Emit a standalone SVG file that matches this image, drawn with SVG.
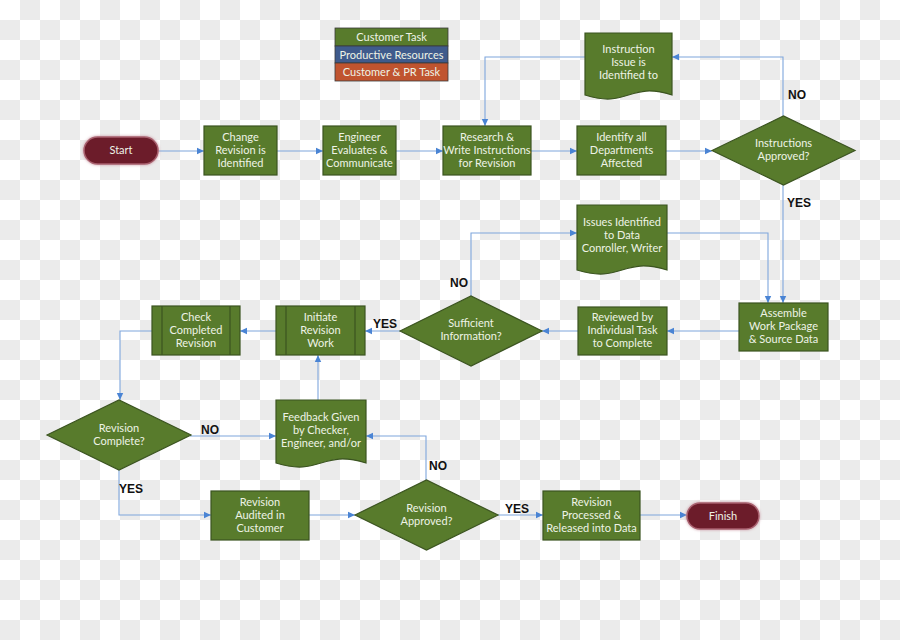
<svg xmlns="http://www.w3.org/2000/svg" width="900" height="640" viewBox="0 0 900 640">
<defs>
<pattern id="chk" width="40" height="40" patternUnits="userSpaceOnUse">
<rect width="40" height="40" fill="#ffffff"/>
<rect x="20" y="0" width="20" height="20" fill="#ebebeb"/>
<rect x="0" y="20" width="20" height="20" fill="#ebebeb"/>
</pattern>
<marker id="arr" markerWidth="8" markerHeight="8" refX="7" refY="4" orient="auto" markerUnits="userSpaceOnUse">
<path d="M0,0.8 L7,4 L0,7.2 Z" fill="#4a84d4"/>
</marker>
<filter id="glow" x="-20%" y="-40%" width="140%" height="180%">
<feGaussianBlur in="SourceAlpha" stdDeviation="1.6" result="b"/>
<feFlood flood-color="#c7909c"/>
<feComposite in2="b" operator="in" result="g"/>
<feMerge><feMergeNode in="g"/><feMergeNode in="SourceGraphic"/></feMerge>
</filter>
<style>
.box{fill:#587b2c;stroke:#3b5420;stroke-width:1.2}
.pill{fill:#6c1b2b;stroke:#a8606e;stroke-width:1.5}
.t{font-family:Lato,"Open Sans","Liberation Sans",sans-serif;font-size:11px;fill:#eef3e6;text-anchor:middle}
.lbl{font-family:"Liberation Sans",Arial,sans-serif;font-size:12px;font-weight:bold;fill:#111;text-anchor:middle}
.c{fill:none;stroke:#7fa6dc;stroke-width:1.1;marker-end:url(#arr)}
.sep{stroke:#3b5420;stroke-width:1.2}
</style>
</defs>
<rect width="900" height="640" fill="url(#chk)"/>

<g id="legend">
<rect x="335" y="28" width="113" height="18" fill="#587b2c" stroke="#3b3b3b" stroke-width="0.8"/>
<rect x="335" y="46" width="113" height="17" fill="#3f5b8c" stroke="#3b3b3b" stroke-width="0.8"/>
<rect x="335" y="63" width="113" height="18" fill="#c0542f" stroke="#3b3b3b" stroke-width="0.8"/>
<text class="t" x="391.5" y="41">Customer Task</text>
<text class="t" x="391.5" y="59">Productive Resources</text>
<text class="t" x="391.5" y="76">Customer &amp; PR Task</text>
</g>

<g id="connectors">
<path class="c" d="M158 151 H204"/>
<path class="c" d="M277 151 H323"/>
<path class="c" d="M396 151 H443"/>
<path class="c" d="M531 151 H577"/>
<path class="c" d="M666 151 H712"/>
<path class="c" d="M783 116 V57 H672"/>
<path class="c" d="M585 57 H485 V126"/>
<path class="c" d="M783 185 V303"/>
<path class="c" d="M667 233 H768 V303"/>
<path class="c" d="M471 296 V233 H577"/>
<path class="c" d="M739 331 H667"/>
<path class="c" d="M578 331 H542"/>
<path class="c" d="M400 331 H365"/>
<path class="c" d="M276 331 H240"/>
<path class="c" d="M152 331 H120 V400"/>
<path class="c" d="M190 436 H276"/>
<path class="c" d="M318 400 V355"/>
<path class="c" d="M426 480 V436 H366"/>
<path class="c" d="M119 470 V515 H211"/>
<path class="c" d="M309 515 H355"/>
<path class="c" d="M498 515 H543"/>
<path class="c" d="M640 515 H687"/>
<text class="lbl" x="797" y="99">NO</text>
<text class="lbl" x="799" y="207">YES</text>
<text class="lbl" x="459" y="287">NO</text>
<text class="lbl" x="385" y="328">YES</text>
<text class="lbl" x="210" y="434">NO</text>
<text class="lbl" x="438" y="470">NO</text>
<text class="lbl" x="131" y="493">YES</text>
<text class="lbl" x="517" y="513">YES</text>
</g>

<g id="start">
<rect class="pill" x="84" y="137" width="74" height="27" rx="13.5" filter="url(#glow)"/>
<text class="t" x="121" y="154">Start</text>
</g>

<g id="change-revision">
<rect class="box" x="204" y="126" width="73" height="49"/>
<text class="t" x="240.5" y="141">Change</text>
<text class="t" x="240.5" y="154">Revision is</text>
<text class="t" x="240.5" y="167">Identified</text>
</g>

<g id="engineer-evaluates">
<rect class="box" x="323" y="126" width="73" height="49"/>
<text class="t" x="359.5" y="141">Engineer</text>
<text class="t" x="359.5" y="154">Evaluates &amp;</text>
<text class="t" x="359.5" y="167">Communicate</text>
</g>

<g id="research-write">
<rect class="box" x="443" y="126" width="88" height="49"/>
<text class="t" x="487" y="141">Research &amp;</text>
<text class="t" x="487" y="154">Write Instructions</text>
<text class="t" x="487" y="167">for Revision</text>
</g>

<g id="identify-departments">
<rect class="box" x="577" y="126" width="89" height="49"/>
<text class="t" x="621.5" y="141">Identify all</text>
<text class="t" x="621.5" y="154">Departments</text>
<text class="t" x="621.5" y="167">Affected</text>
</g>

<g id="instructions-approved">
<path class="box" d="M712 150.5 L783.5 116 L855 150.5 L783.5 185 Z"/>
<text class="t" x="783.5" y="147">Instructions</text>
<text class="t" x="783.5" y="160">Approved?</text>
</g>

<g id="instruction-issue">
<path class="box" d="M585 33 H672 V95 C628.5 81 628.5 109 585 95 Z"/>
<text class="t" x="628.5" y="53">Instruction</text>
<text class="t" x="628.5" y="66">Issue is</text>
<text class="t" x="628.5" y="79">Identified to</text>
</g>

<g id="issues-identified">
<path class="box" d="M577 205 H667 V270 C622 256 622 284 577 270 Z"/>
<text class="t" x="622" y="226">Issues Identified</text>
<text class="t" x="622" y="239">to Data</text>
<text class="t" x="622" y="252">Conroller, Writer</text>
</g>

<g id="assemble">
<rect class="box" x="739" y="303" width="89" height="48"/>
<text class="t" x="783.5" y="317">Assemble</text>
<text class="t" x="783.5" y="330">Work Package</text>
<text class="t" x="783.5" y="343">&amp; Source Data</text>
</g>

<g id="reviewed">
<rect class="box" x="578" y="307" width="89" height="48"/>
<text class="t" x="622.5" y="321">Reviewed by</text>
<text class="t" x="622.5" y="334">Individual Task</text>
<text class="t" x="622.5" y="347">to Complete</text>
</g>

<g id="sufficient-information">
<path class="box" d="M400 331 L471 296 L542 331 L471 366 Z"/>
<text class="t" x="471" y="327">Sufficient</text>
<text class="t" x="471" y="340">Information?</text>
</g>

<g id="initiate-revision">
<rect class="box" x="276" y="306" width="89" height="49"/>
<line class="sep" x1="286" y1="306" x2="286" y2="355"/>
<line class="sep" x1="355" y1="306" x2="355" y2="355"/>
<text class="t" x="320.5" y="321">Initiate</text>
<text class="t" x="320.5" y="334">Revision</text>
<text class="t" x="320.5" y="347">Work</text>
</g>

<g id="check-completed">
<rect class="box" x="152" y="306" width="88" height="49"/>
<line class="sep" x1="162" y1="306" x2="162" y2="355"/>
<line class="sep" x1="230" y1="306" x2="230" y2="355"/>
<text class="t" x="196" y="321">Check</text>
<text class="t" x="196" y="334">Completed</text>
<text class="t" x="196" y="347">Revision</text>
</g>

<g id="revision-complete">
<path class="box" d="M47 435 L119 400 L191 435 L119 470 Z"/>
<text class="t" x="119" y="432">Revision</text>
<text class="t" x="119" y="445">Complete?</text>
</g>

<g id="feedback">
<path class="box" d="M276 400 H366 V463 C321 449 321 477 276 463 Z"/>
<text class="t" x="321" y="421">Feedback Given</text>
<text class="t" x="321" y="434">by Checker,</text>
<text class="t" x="321" y="447">Engineer, and/or</text>
</g>

<g id="revision-audited">
<rect class="box" x="211" y="491" width="98" height="49"/>
<text class="t" x="260" y="506">Revision</text>
<text class="t" x="260" y="519">Audited in</text>
<text class="t" x="260" y="532">Customer</text>
</g>

<g id="revision-approved">
<path class="box" d="M355 515 L426.5 480 L498 515 L426.5 550 Z"/>
<text class="t" x="426.5" y="512">Revision</text>
<text class="t" x="426.5" y="525">Approved?</text>
</g>

<g id="revision-processed">
<rect class="box" x="543" y="491" width="97" height="49"/>
<text class="t" x="591.5" y="506">Revision</text>
<text class="t" x="591.5" y="519">Processed &amp;</text>
<text class="t" x="591.5" y="532">Released into Data</text>
</g>

<g id="finish">
<rect class="pill" x="687" y="503" width="72" height="26" rx="13" filter="url(#glow)"/>
<text class="t" x="723" y="520">Finish</text>
</g>
</svg>
